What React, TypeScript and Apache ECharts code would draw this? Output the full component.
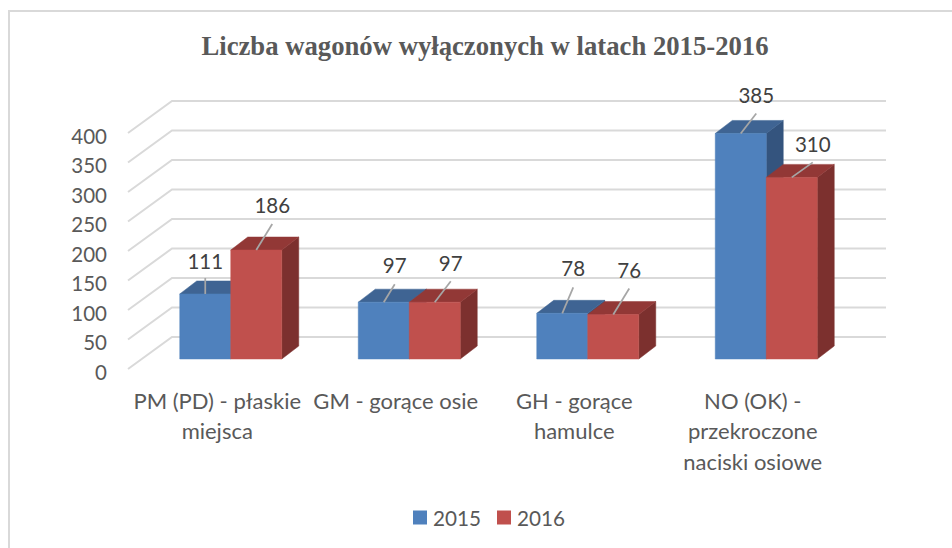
import React, { useEffect, useRef } from "react";
import * as echarts from "echarts";

const categories = [
  "PM (PD) - płaskie\nmiejsca",
  "GM - gorące osie",
  "GH - gorące\nhamulce",
  "NO (OK) -\nprzekroczone\nnaciski osiowe",
];
const values2015 = [111, 97, 78, 385];
const values2016 = [186, 97, 76, 310];
const yTicks = [0, 50, 100, 150, 200, 250, 300, 350, 400];
const leader2015 = [[0, -16, 0, -33], [11, -18, 11, -37], [11, -26, 11, -45], [15.5, -20, 15.5, -38]];
const leader2016 = [[16, -26, 16, -45], [16, -21, 16, -39], [16, -26, 16, -44.5], [21, -15, 21, -33]];

const FONT = "Lato";
const TEXT = "#595959";
const WALL_DX = 44;
const WALL_DY = -32;
const BAR_IN_X = 13.5;
const BAR_IN_Y = -10;
const BAR_SCALE = 0.993;
const BAR_W = 51;
const DEPTH_X = 17;
const DEPTH_Y = -13;

function barTop(base: number, top: number) {
  return base + (top - base) * BAR_SCALE + BAR_IN_Y;
}

function barSeries(name: string, values: number[], side: number, colors: string[]) {
  return {
    type: "custom",
    name,
    z: 3,
    itemStyle: { color: colors[0] },
    data: values.map((v, i) => [i, v]),
    encode: { x: 0, y: 1 },
    renderItem: (_p: any, api: any) => {
      const top = api.coord([api.value(0), api.value(1)]);
      const base = api.coord([api.value(0), 0]);
      const x0 = top[0] + BAR_IN_X + (side === 0 ? -BAR_W : 0);
      const x1 = x0 + BAR_W;
      const yT = barTop(base[1], top[1]);
      const yB = base[1] + BAR_IN_Y;
      const poly = (points: number[][], fill: string) => ({
        type: "polygon",
        shape: { points },
        style: { fill, stroke: fill, lineWidth: 0.5 },
      });
      return {
        type: "group",
        children: [
          poly([[x1, yT], [x1 + DEPTH_X, yT + DEPTH_Y], [x1 + DEPTH_X, yB + DEPTH_Y], [x1, yB]], colors[2]),
          poly([[x0, yT], [x0 + DEPTH_X, yT + DEPTH_Y], [x1 + DEPTH_X, yT + DEPTH_Y], [x1, yT]], colors[1]),
          poly([[x0, yT], [x1, yT], [x1, yB], [x0, yB]], colors[0]),
        ],
      };
    },
  };
}

function labelSeries(values: number[], side: number, leaders: number[][]) {
  return {
    type: "custom",
    z: 5,
    silent: true,
    legendHoverLink: false,
    data: values.map((v, i) => [i, v]),
    encode: { x: 0, y: 1 },
    renderItem: (_p: any, api: any) => {
      const i = api.value(0);
      const v = api.value(1);
      const top = api.coord([i, v]);
      const base = api.coord([i, 0]);
      const cx = top[0] + BAR_IN_X + (side === 0 ? -BAR_W / 2 : BAR_W / 2);
      const cy = barTop(base[1], top[1]);
      const [lx, ly, tx, ty] = leaders[i];
      return {
        type: "group",
        children: [
          {
            type: "line",
            shape: { x1: cx, y1: cy, x2: cx + lx, y2: cy + ly },
            style: { stroke: "#a6a6a6", lineWidth: 1.75 },
          },
          {
            type: "text",
            x: cx + tx,
            y: cy + ty,
            style: {
              text: String(v),
              fill: "#404040",
              font: `20.5px ${FONT}`,
              align: "center",
              verticalAlign: "middle",
            },
          },
        ],
      };
    },
  };
}

const wallSeries = {
  type: "custom",
  z: 1,
  silent: true,
  data: yTicks.map((t) => [0, t]),
  encode: { x: 0, y: 1 },
  renderItem: (p: any, api: any) => {
    const y = api.coord([0, api.value(1)])[1];
    const left = p.coordSys.x;
    const right = left + p.coordSys.width;
    return {
      type: "polyline",
      shape: {
        points: [
          [left, y],
          [left + WALL_DX, y + WALL_DY],
          [right + WALL_DX, y + WALL_DY],
        ],
      },
      style: { stroke: "#d9d9d9", lineWidth: 2, fill: "none" },
    };
  },
};

export default function App() {
  const ref = useRef<HTMLDivElement>(null);
  useEffect(() => {
    const chart = echarts.init(ref.current!, undefined, { renderer: "svg" });
    chart.setOption({
      animation: false,
      backgroundColor: "#ffffff",
      title: {
        text: "Liczba wagonów wyłączonych w latach 2015-2016",
        left: 480,
        top: 27,
        textAlign: "center",
        textStyle: {
          fontFamily: "Liberation Serif",
          fontWeight: "bold",
          fontSize: 26.7,
          color: TEXT,
        },
      },
      legend: {
        left: 408,
        top: 502,
        itemWidth: 14,
        itemHeight: 14,
        itemGap: 16,
        icon: "rect",
        data: ["2015", "2016"],
        textStyle: { fontFamily: FONT, fontSize: 20.7, color: TEXT, padding: [0, 0, 0, 1] },
      },
      grid: { left: 128, right: 110, top: 133, bottom: 179 },
      xAxis: {
        type: "category",
        data: categories,
        axisLine: { show: false },
        axisTick: { show: false },
        splitLine: { show: false },
        axisLabel: {
          interval: 0,
          margin: 16,
          color: TEXT,
          fontFamily: FONT,
          fontSize: 22,
          lineHeight: 30.5,
        },
      },
      yAxis: {
        type: "value",
        min: 0,
        max: 400,
        interval: 50,
        axisLine: { show: false },
        axisTick: { show: false },
        splitLine: { show: false },
        axisLabel: {
          margin: 21,
          color: TEXT,
          fontFamily: FONT,
          fontSize: 20.5,
          verticalAlign: "top",
          lineHeight: 5,
        },
      },
      graphic: [
        {
          type: "rect",
          silent: true,
          z: -1,
          shape: { x: 9, y: 11, width: 960, height: 560 },
          style: { fill: "none", stroke: "#d9d9d9", lineWidth: 2 },
        },
      ],
      series: [
        wallSeries,
        barSeries("2015", values2015, 0, ["#4f81bd", "#3f6493", "#34547e"]),
        barSeries("2016", values2016, 1, ["#c0504d", "#923836", "#7c302e"]),
        labelSeries(values2015, 0, leader2015),
        labelSeries(values2016, 1, leader2016),
      ],
    });
    return () => chart.dispose();
  }, []);
  return (
    <div
      ref={ref}
      style={{ position: "fixed", left: 0, top: 0, width: 952, height: 548 }}
    />
  );
}
